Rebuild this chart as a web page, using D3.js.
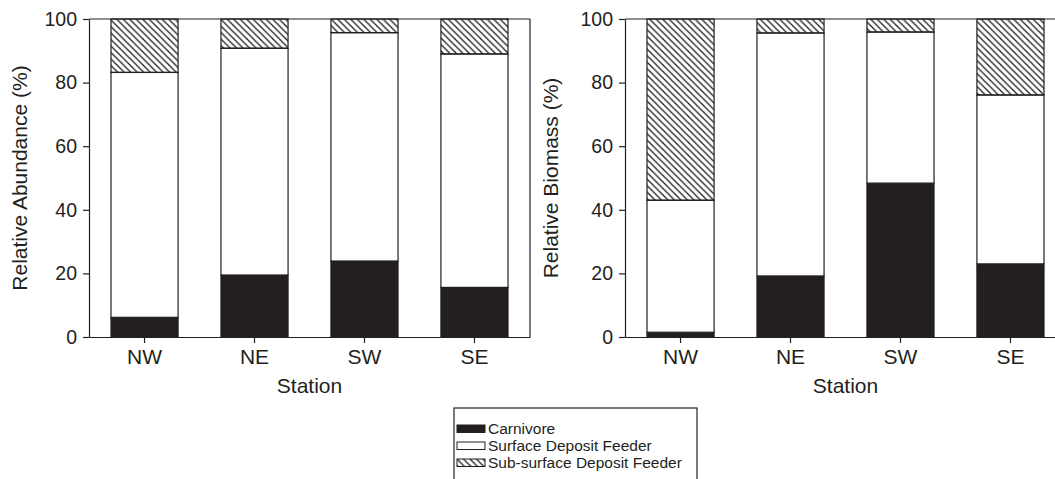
<!DOCTYPE html>
<html>
<head>
<meta charset="utf-8">
<script src="https://cdn.jsdelivr.net/npm/d3@7"></script>
<style>
  body { margin: 0; background: #fff; }
  svg { display: block; font-family: "Liberation Sans", Arial, sans-serif; }
</style>
</head>
<body>
<div id="chart"></div>
<script>
// data (percent)
const stations = ["NW", "NE", "SW", "SE"];
const groups = ["Carnivore", "Surface Deposit Feeder", "Sub-surface Deposit Feeder"];
const abundCarnivore = [6.2, 19.5, 23.9, 15.6];
const abundSurface = [77.0, 71.3, 71.8, 73.4];
const abundSubsurface = [16.8, 9.2, 4.3, 11.0];
const bioCarnivore = [1.5, 19.2, 48.4, 23.0];
const bioSurface = [41.5, 76.4, 47.5, 53.1];
const bioSubsurface = [57.0, 4.4, 4.1, 23.9];
const yTicks = [0, 20, 40, 60, 80, 100];

const W = 1055, H = 479;
const ink = "#231f20";

const svg = d3.select("#chart").append("svg")
    .attr("width", W)
    .attr("height", H);

// hatch pattern for sub-surface deposit feeders
const defs = svg.append("defs");
const hs = 6.5;
defs.append("pattern")
    .attr("id", "hatch")
    .attr("patternUnits", "userSpaceOnUse")
    .attr("width", hs)
    .attr("height", hs)
  .append("path")
    .attr("d", `M0,0L${hs},${hs}M${-1},${hs - 1}L1,${hs + 1}M${hs - 1},-1L${hs + 1},1`)
    .attr("stroke", ink)
    .attr("stroke-width", 1.3);

const fills = ["#231f20", "#ffffff", "url(#hatch)"];

function rows(c, s, b) {
    return stations.map((st, i) => ({station: st, c: c[i], s: s[i], b: b[i]}));
}

function drawPanel(left, right, data, ylabel, labelX) {
    const top = 19, bottom = 337;
    const g = svg.append("g");

    const x = d3.scaleBand()
        .domain(stations)
        .range([left, right])
        .paddingInner(0.39)
        .paddingOuter(0.2);

    const y = d3.scaleLinear()
        .domain([0, 100])
        .range([bottom, top]);

    const series = d3.stack().keys(["c", "s", "b"])(data);

    // bars
    g.selectAll("g.layer")
        .data(series)
        .enter()
        .append("g")
        .attr("class", "layer")
        .attr("fill", (d, i) => fills[i])
        .selectAll("rect")
        .data(d => d)
        .enter()
        .append("rect")
        .attr("x", d => x(d.data.station))
        .attr("width", x.bandwidth())
        .attr("y", d => y(d[1]))
        .attr("height", d => y(d[0]) - y(d[1]))
        .attr("stroke", ink)
        .attr("stroke-width", 1.2);

    // frame: top and right lines
    g.append("line")
        .attr("x1", left).attr("x2", right)
        .attr("y1", y(100)).attr("y2", y(100))
        .attr("stroke", ink).attr("stroke-width", 1.2);
    g.append("line")
        .attr("x1", right).attr("x2", right)
        .attr("y1", y(100)).attr("y2", y(0))
        .attr("stroke", ink).attr("stroke-width", 1.2);

    // axes
    const yAxis = g.append("g")
        .attr("transform", "translate(" + left + ",0)")
        .call(d3.axisLeft(y).tickValues(yTicks).tickSize(6).tickPadding(6).tickSizeOuter(0));
    yAxis.selectAll("text").attr("font-size", 19.5).attr("fill", ink);

    const xAxis = g.append("g")
        .attr("transform", "translate(0," + bottom + ")")
        .call(d3.axisBottom(x).tickSize(6).tickPadding(6).tickSizeOuter(0));
    xAxis.selectAll("text").attr("font-size", 21).attr("fill", ink);

    [yAxis, xAxis].forEach(a => {
        a.attr("font-family", null);
        a.selectAll("line, path").attr("stroke", ink).attr("stroke-width", 1.2);
    });

    g.append("text")
        .attr("x", (left + right) / 2)
        .attr("y", 393)
        .attr("text-anchor", "middle")
        .attr("font-size", 21)
        .attr("fill", ink)
        .text("Station");

    g.append("text")
        .attr("transform", "translate(" + labelX + "," + ((top + bottom) / 2) + ") rotate(-90)")
        .attr("text-anchor", "middle")
        .attr("font-size", 21)
        .attr("fill", ink)
        .text(ylabel);
}

drawPanel(89, 530, rows(abundCarnivore, abundSurface, abundSubsurface), "Relative Abundance (%)", 27);
drawPanel(625, 1066, rows(bioCarnivore, bioSurface, bioSubsurface), "Relative Biomass (%)", 558);

// legend
const lg = svg.append("g").attr("transform", "translate(454,408)");
lg.append("rect")
    .attr("width", 243)
    .attr("height", 90)
    .attr("fill", "#fff")
    .attr("stroke", ink)
    .attr("stroke-width", 1.2);

const item = lg.selectAll("g.item")
    .data(groups)
    .enter()
    .append("g")
    .attr("class", "item")
    .attr("transform", (d, i) => "translate(3," + (17 + i * 17) + ")");

item.append("rect")
    .attr("width", 28)
    .attr("height", 7.5)
    .attr("fill", (d, i) => fills[i])
    .attr("stroke", ink)
    .attr("stroke-width", 1);

item.append("text")
    .attr("x", 31)
    .attr("y", 8.5)
    .attr("font-size", 15.5)
    .attr("fill", ink)
    .text(d => d);
</script>
</body>
</html>
